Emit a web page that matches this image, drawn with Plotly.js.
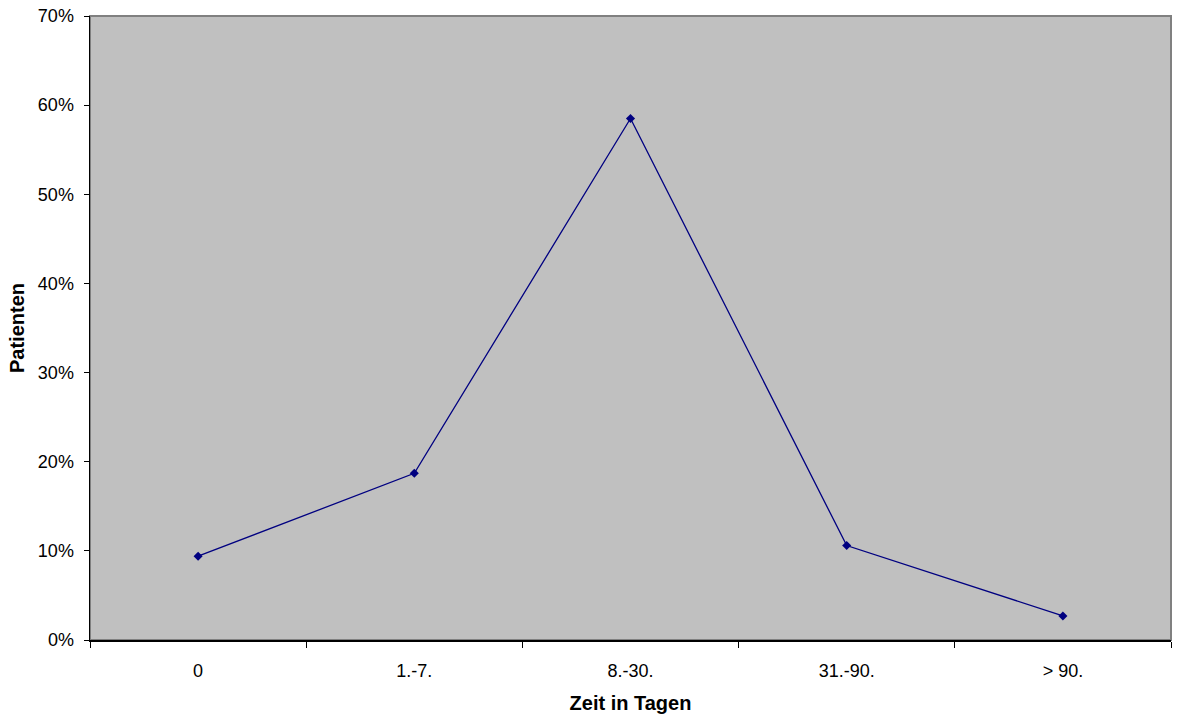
<!DOCTYPE html>
<html><head><meta charset="utf-8">
<script src="https://cdn.plot.ly/plotly-3.0.1.min.js"></script>
<style>html,body{margin:0;padding:0;background:#fff}#chart{width:1179px;height:715px}</style>
</head><body><div id="chart"></div>
<script>
const categories = ["0", "1.-7.", "8.-30.", "31.-90.", "> 90."];
const patientShare = [0.094, 0.187, 0.585, 0.106, 0.027];
const yTickValues = [0, 0.1, 0.2, 0.3, 0.4, 0.5, 0.6, 0.7];

const trace = {
  x: categories, y: patientShare, type: "scatter", mode: "lines+markers",
  line: {color: "#000080", width: 1.3},
  marker: {symbol: "diamond", size: 7, color: "#000080"},
  hoverinfo: "skip"
};
const tickFont = {family: "Liberation Sans, Arial, sans-serif", size: 18, color: "#000"};
const titleFont = {family: "Liberation Sans, Arial, sans-serif", size: 20, color: "#000"};
const layout = {
  width: 1179, height: 715,
  margin: {l: 90, r: 8, t: 16, b: 75},
  paper_bgcolor: "#fff", plot_bgcolor: "#C0C0C0",
  font: tickFont, showlegend: false,
  xaxis: {
    type: "category", tickson: "boundaries", ticks: "outside", ticklen: 6, tickcolor: "#000",
    showline: true, linecolor: "#000", linewidth: 1.5, showgrid: false, zeroline: false,
    range: [-0.5, 4.5], ticklabelstandoff: 14, tickfont: tickFont,
    title: {text: "<b>Zeit in Tagen</b>", font: titleFont, standoff: 16}
  },
  yaxis: {
    range: [0, 0.7], tickvals: yTickValues, tickformat: ".0%", ticks: "outside", ticklen: 5, tickcolor: "#000",
    showline: true, linecolor: "#000", linewidth: 1.5, showgrid: false, zeroline: false,
    ticklabelstandoff: 6, tickfont: tickFont,
    title: {text: "<b>Patienten</b>", font: titleFont, standoff: 8}
  },
  shapes: [{type: "rect", xref: "paper", yref: "paper", x0: 0, x1: 1, y0: 0, y1: 1,
    line: {color: "#808080", width: 2}, layer: "below"}]
};
Plotly.newPlot("chart", [trace], layout, {staticPlot: true});
</script></body></html>
